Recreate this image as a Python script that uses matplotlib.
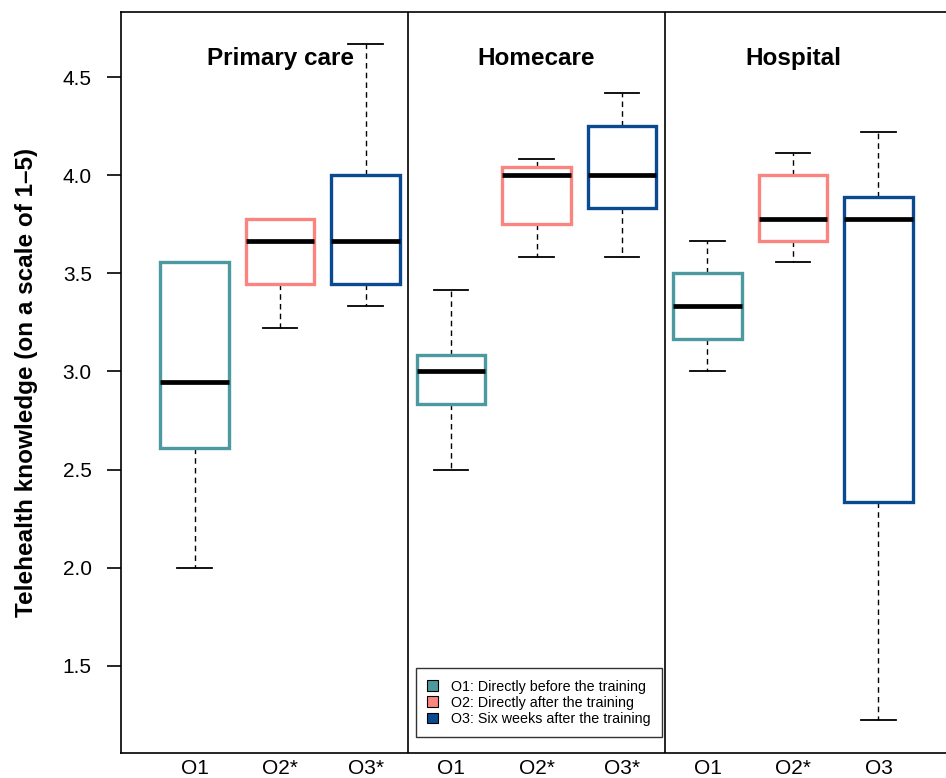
import matplotlib
matplotlib.use('Agg')
import matplotlib.pyplot as plt
from matplotlib.patches import Patch

plt.rcParams['font.family'] = ['Liberation Sans', 'DejaVu Sans']

# data: one box per time point, three settings
settings = ['Primary care', 'Homecare', 'Hospital']
labels = ['O1', 'O2*', 'O3*', 'O1', 'O2*', 'O3*', 'O1', 'O2*', 'O3']
whislo = [2.000, 3.222, 3.333, 2.500, 3.583, 3.583, 3.000, 3.556, 1.222]
q1     = [2.611, 3.444, 3.444, 2.833, 3.750, 3.833, 3.167, 3.667, 2.333]
med    = [2.944, 3.667, 3.667, 3.000, 4.000, 4.000, 3.333, 3.778, 3.778]
q3     = [3.556, 3.778, 4.000, 3.083, 4.042, 4.250, 3.500, 4.000, 3.889]
whishi = [3.556, 3.778, 4.667, 3.417, 4.083, 4.417, 3.667, 4.111, 4.222]
legend_labels = ['O1: Directly before the training',
                 'O2: Directly after the training',
                 'O3: Six weeks after the training']

colors = ['#4C9AA0', '#FA8580', '#0A4A90']

fig = plt.figure(figsize=(9.46, 7.78), dpi=100)
ax = fig.add_axes([121/946, 25/778, (952-121)/946, (753-12)/778])

stats = []
for i in range(len(labels)):
    stats.append(dict(whislo=whislo[i], q1=q1[i], med=med[i], q3=q3[i],
                      whishi=whishi[i], fliers=[], label=labels[i]))

pos = list(range(1, len(labels) + 1))
bp = ax.bxp(stats, positions=pos, widths=0.8, capwidths=0.4,
            patch_artist=True, showfliers=False,
            boxprops=dict(linewidth=2.4, facecolor='white', zorder=3),
            medianprops=dict(color='black', linewidth=3.4, solid_capstyle='butt', zorder=4),
            whiskerprops=dict(color='black', linewidth=1.0, linestyle=(0, (4, 3))),
            capprops=dict(color='black', linewidth=1.3))

for i, b in enumerate(bp['boxes']):
    b.set_edgecolor(colors[i % 3])

# group dividers
for x in [3.5, 6.5]:
    ax.axvline(x, color='black', linewidth=1.2)

for g, name in enumerate(settings):
    ax.text(2 + 3 * g, 4.595, name, ha='center', va='center',
            fontsize=17.5, fontweight='bold')

ax.set_xlim(0.14, 9.86)
ax.set_ylim(1.055, 4.832)
ax.set_yticks([1.5, 2.0, 2.5, 3.0, 3.5, 4.0, 4.5])
ax.set_yticklabels(['1.5', '2.0', '2.5', '3.0', '3.5', '4.0', '4.5'])
ax.set_xticks(pos)
ax.set_xticklabels(labels)
ax.tick_params(axis='y', length=10, width=1.2, pad=11, labelsize=15)
ax.tick_params(axis='x', length=0, pad=4, labelsize=15)
for s in ax.spines.values():
    s.set_linewidth(1.2)

ax.set_ylabel('Telehealth knowledge (on a scale of 1\u20135)', fontsize=17.5,
              fontweight='bold', labelpad=18)

handles = [Patch(facecolor=c, edgecolor='black', linewidth=0.8) for c in colors]
leg = ax.legend(handles, legend_labels, loc='lower left',
                bbox_to_anchor=(3.59, 1.135), bbox_transform=ax.transData,
                fontsize=10.3, frameon=True, fancybox=False, handlelength=0.75,
                handleheight=0.75, handletextpad=0.9, borderpad=0.8,
                labelspacing=0.15, borderaxespad=0)
leg.get_frame().set_edgecolor('black')
leg.get_frame().set_linewidth(1.0)

fig.savefig('out.png', dpi=100)
